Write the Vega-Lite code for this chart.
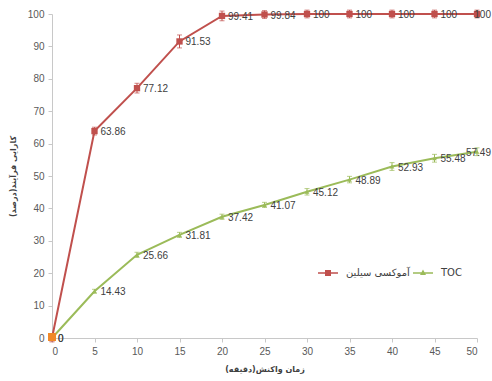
{
  "$schema": "https://vega.github.io/schema/vega-lite/v6.json",
  "width": 425,
  "height": 324,
  "autosize": {"type": "none"},
  "padding": {"left": 52, "top": 14, "right": 15, "bottom": 43},
  "background": "white",
  "config": {
    "view": {"stroke": null},
    "axis": {
      "grid": false,
      "labelFont": "Liberation Sans",
      "labelFontSize": 10,
      "labelColor": "#595959",
      "domainColor": "#c8c8c8",
      "tickColor": "#c8c8c8",
      "tickSize": 4,
      "titleFont": "DejaVu Sans",
      "titleFontSize": 8,
      "titleFontWeight": "bold",
      "titleColor": "#404040"
    }
  },
  "data": {
    "values": [
      {"time": 0, "value": 0, "err": 1.2, "series": "آموکسی سیلین"},
      {"time": 5, "value": 63.86, "err": 1.2, "series": "آموکسی سیلین"},
      {"time": 10, "value": 77.12, "err": 1.5, "series": "آموکسی سیلین"},
      {"time": 15, "value": 91.53, "err": 2, "series": "آموکسی سیلین"},
      {"time": 20, "value": 99.41, "err": 1.5, "series": "آموکسی سیلین"},
      {"time": 25, "value": 99.84, "err": 1.2, "series": "آموکسی سیلین"},
      {"time": 30, "value": 100, "err": 1.2, "series": "آموکسی سیلین"},
      {"time": 35, "value": 100, "err": 1.2, "series": "آموکسی سیلین"},
      {"time": 40, "value": 100, "err": 1.2, "series": "آموکسی سیلین"},
      {"time": 45, "value": 100, "err": 1.2, "series": "آموکسی سیلین"},
      {"time": 50, "value": 100, "err": 1.2, "series": "آموکسی سیلین"},
      {"time": 0, "value": 0, "err": 0.6, "series": "TOC"},
      {"time": 5, "value": 14.43, "err": 0.6, "series": "TOC"},
      {"time": 10, "value": 25.66, "err": 0.8, "series": "TOC"},
      {"time": 15, "value": 31.81, "err": 0.8, "series": "TOC"},
      {"time": 20, "value": 37.42, "err": 0.8, "series": "TOC"},
      {"time": 25, "value": 41.07, "err": 0.8, "series": "TOC"},
      {"time": 30, "value": 45.12, "err": 1, "series": "TOC"},
      {"time": 35, "value": 48.89, "err": 1, "series": "TOC"},
      {"time": 40, "value": 52.93, "err": 1.2, "series": "TOC"},
      {"time": 45, "value": 55.48, "err": 1.2, "series": "TOC"},
      {"time": 50, "value": 57.49, "err": 1.2, "series": "TOC"}
    ]
  },
  "encoding": {
    "x": {
      "field": "time",
      "type": "quantitative",
      "scale": {"domain": [0, 50], "nice": false},
      "axis": {
        "values": [0, 5, 10, 15, 20, 25, 30, 35, 40, 45, 50],
        "title": "‏زمان واکنش(دقیقه)‏",
        "titlePadding": 9,
        "labelPadding": 4
      }
    },
    "y": {
      "field": "value",
      "type": "quantitative",
      "scale": {"domain": [0, 100], "nice": false},
      "axis": {
        "values": [0, 10, 20, 30, 40, 50, 60, 70, 80, 90, 100],
        "title": "‏کارایی فرآیند(درصد)‏",
        "titlePadding": 10,
        "labelPadding": 4
      }
    }
  },
  "layer": [
    {
      "mark": {"type": "line", "strokeWidth": 2},
      "encoding": {
        "color": {
          "field": "series",
          "type": "nominal",
          "scale": {"domain": ["آموکسی سیلین", "TOC"], "range": ["#c0504d", "#9bbb59"]},
          "legend": {
            "orient": "none",
            "legendX": 266,
            "legendY": 249,
            "padding": 0,
            "direction": "horizontal",
            "title": null,
            "symbolSize": 400,
            "labelFont": "DejaVu Sans",
            "labelFontSize": 10,
            "labelColor": "#404040",
            "columnPadding": 3,
            "labelOffset": 8,
            "encode": {
              "symbols": {
                "update": {
                  "shape": {"signal": "datum.value === 'TOC' ? 'M-1,-0.08L1,-0.08L1,0.08L-1,0.08ZM0,-0.34L0.3,0.2L-0.3,0.2Z' : 'M-1,-0.08L1,-0.08L1,0.08L-1,0.08ZM-0.3,-0.3L0.3,-0.3L0.3,0.3L-0.3,0.3Z'"},
                  "fill": {"signal": "datum.value === 'TOC' ? '#9bbb59' : '#c0504d'"},
                  "stroke": {"value": "transparent"},
                  "strokeWidth": {"value": 0},
                  "fillOpacity": {"value": 1},
                  "opacity": {"value": 1}
                }
              }
            }
          }
        }
      }
    },
    {
      "mark": {"type": "errorbar", "ticks": {"size": 5}, "thickness": 1},
      "encoding": {
        "yError": {"field": "err"},
        "color": {"field": "series", "type": "nominal", "legend": null}
      }
    },
    {
      "transform": [{"filter": "datum.series !== 'TOC'"}],
      "mark": {"type": "square", "color": "#c0504d", "size": 40, "opacity": 1, "filled": true}
    },
    {
      "transform": [{"filter": "datum.series === 'TOC'"}],
      "mark": {"type": "point", "shape": "triangle-up", "color": "#9bbb59", "size": 22, "opacity": 1, "filled": true}
    },
    {
      "transform": [{"filter": "datum.time === 0 && datum.series !== 'TOC'"}],
      "mark": {"type": "square", "color": "#f0892a", "size": 64, "opacity": 1, "filled": true, "yOffset": -1}
    },
    {
      "transform": [{"filter": "datum.time < 50"}],
      "mark": {"type": "text", "align": "left", "baseline": "middle", "dx": 6, "dy": 1, "font": "Liberation Sans", "fontSize": 10, "color": "#404040"},
      "encoding": {"text": {"field": "value", "type": "quantitative"}}
    },
    {
      "transform": [{"filter": "datum.time === 50"}],
      "mark": {"type": "text", "align": "right", "baseline": "middle", "dx": 14, "dy": 1, "font": "Liberation Sans", "fontSize": 10, "color": "#404040"},
      "encoding": {"text": {"field": "value", "type": "quantitative"}}
    }
  ]
}
